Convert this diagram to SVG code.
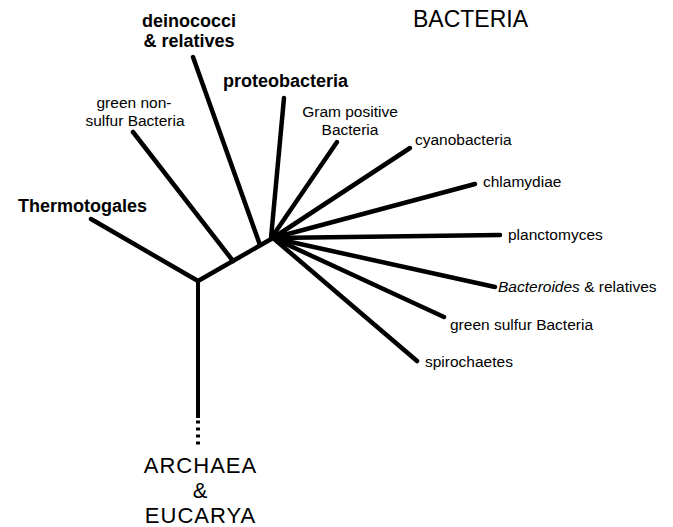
<svg xmlns="http://www.w3.org/2000/svg" width="673" height="527" viewBox="0 0 673 527">
  <style>
    .br { stroke: #000; stroke-width: 4.5; stroke-linecap: round; fill: none; }
    .tr { stroke: #000; stroke-width: 4; fill: none; }
    .dots { stroke: #000; stroke-width: 4; fill: none; stroke-dasharray: 3 4; }
    text { font-family: "Liberation Sans", Arial, sans-serif; fill: #000; }
    .r { font-size: 15.5px; }
    .b { font-size: 18px; font-weight: bold; }
    .big { font-size: 23px; }
    .ae { font-size: 22px; letter-spacing: 1px; }
    .m { text-anchor: middle; }
  </style>
  <rect width="673" height="527" fill="#fff"/>
  <g id="connectors">
    <line class="tr" x1="198" y1="281" x2="198" y2="418"/>
    <line class="dots" x1="198" y1="420.5" x2="198" y2="445"/>
    <line class="br" x1="198" y1="281" x2="91" y2="219"/>
    <line class="br" x1="198" y1="281" x2="273" y2="238"/>
    <line class="br" x1="233" y1="261" x2="133" y2="132"/>
    <line class="br" x1="260" y1="245" x2="193" y2="57"/>
    <line class="br" x1="271" y1="238" x2="284" y2="98"/>
    <line class="br" x1="272" y1="237" x2="337" y2="142"/>
    <line class="br" x1="273" y1="238" x2="410" y2="148"/>
    <line class="br" x1="273" y1="238" x2="475" y2="184"/>
    <line class="br" x1="273" y1="238" x2="500" y2="235"/>
    <line class="br" x1="273" y1="238" x2="495" y2="287"/>
    <line class="br" x1="273" y1="238" x2="444" y2="317"/>
    <line class="br" x1="273" y1="238" x2="417" y2="361"/>
  </g>
  <g id="bacteria-title"><text class="big" x="413" y="27">BACTERIA</text></g>
  <g id="deinococci">
    <text class="b m"><tspan x="189" y="27">deinococci</tspan><tspan x="189" y="47">&amp; relatives</tspan></text>
  </g>
  <g id="proteobacteria"><text class="b" x="223" y="87">proteobacteria</text></g>
  <g id="green-nonsulfur">
    <text class="r m"><tspan x="134" y="108">green non-</tspan><tspan x="135" y="126">sulfur Bacteria</tspan></text>
  </g>
  <g id="gram-positive">
    <text class="r m"><tspan x="350" y="117">Gram positive</tspan><tspan x="350" y="135">Bacteria</tspan></text>
  </g>
  <g id="cyanobacteria"><text class="r" x="415" y="145">cyanobacteria</text></g>
  <g id="chlamydiae"><text class="r" x="483" y="187">chlamydiae</text></g>
  <g id="planctomyces"><text class="r" x="508" y="240">planctomyces</text></g>
  <g id="bacteroides"><text class="r" x="498" y="292"><tspan font-style="italic">Bacteroides</tspan> &amp; relatives</text></g>
  <g id="green-sulfur"><text class="r" x="450" y="330">green sulfur Bacteria</text></g>
  <g id="spirochaetes"><text class="r" x="425" y="367">spirochaetes</text></g>
  <g id="thermotogales"><text class="b" x="18" y="212">Thermotogales</text></g>
  <g id="archaea-eucarya">
    <text class="ae m"><tspan x="200.5" y="473">ARCHAEA</tspan><tspan x="200.5" y="498">&amp;</tspan><tspan x="200.5" y="523">EUCARYA</tspan></text>
  </g>
</svg>
